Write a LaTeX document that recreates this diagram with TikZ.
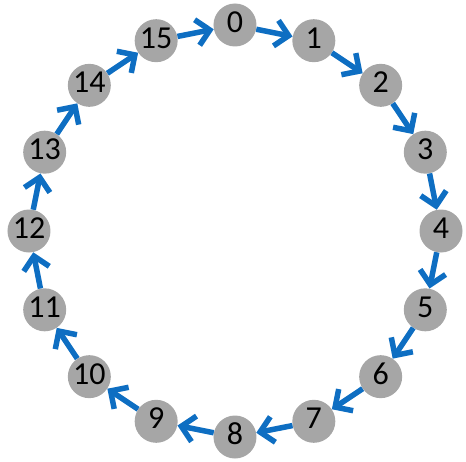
\documentclass[tikz,border=0pt]{standalone}
\usepackage{fontspec}
\setmainfont{Carlito}
\usetikzlibrary{arrows.meta}
\definecolor{nodegray}{RGB}{166,166,166}
\definecolor{arrowblue}{RGB}{14,110,194}
\begin{document}
\begin{tikzpicture}[x=1pt,y=1pt,
  vert/.style={circle,fill=nodegray,minimum size=43pt,inner sep=0pt,
    font=\fontsize{32}{32}\selectfont,text height=20pt,text depth=5pt},
  link/.style={draw=arrowblue,line width=5.5pt,-{Straight Barb[length=13pt,width=26pt,line width=5.5pt]}}]
\useasboundingbox (-235,-230) rectangle (231,231);
\foreach \k in {0,...,15}{
  \node[vert] (n\k) at ({90-22.5*\k}:206) {\k};
}
\foreach \k [evaluate=\k as \j using {int(mod(\k+1,16))}] in {0,...,15}{
  \draw[link] (n\k) -- (n\j);
}
\end{tikzpicture}
\end{document}
